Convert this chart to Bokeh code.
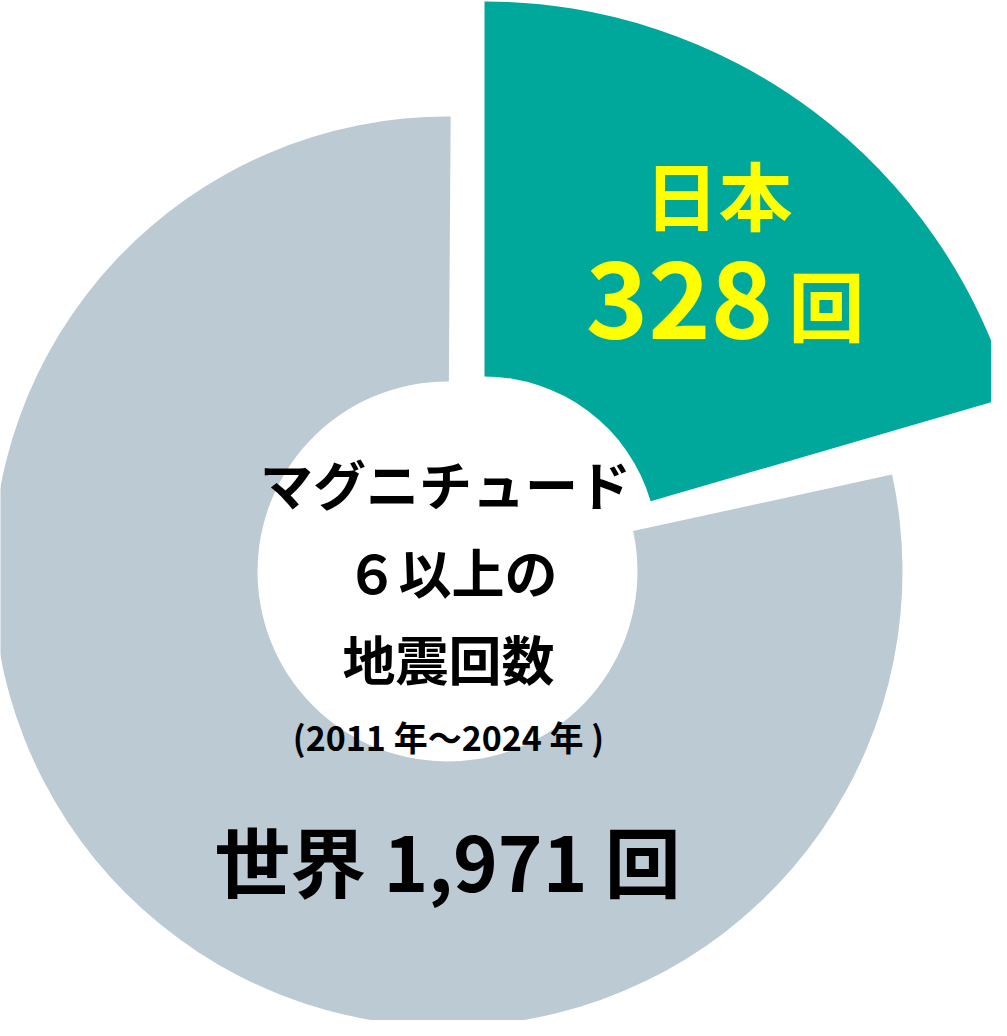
from bokeh.plotting import figure
from bokeh.models import Range1d, ColumnDataSource
from bokeh.core.properties import value
from bokeh.embed import file_html
from bokeh.resources import INLINE

# ---- data ----
labels = ["日本", "世界"]
counts = [328, 1971]
drawn_share_pct = [20.5, 79.5]      # slice shares as drawn in the picture
period = ["2011", "2024"]
center_lines = ["マグニチュード", "６以上の", "地震回数"]
colors = ["#00A89C", "#BCCAD4"]

FONT = value("Noto Sans CJK JP")

p = figure(width=991, height=1020, x_range=Range1d(8, 999), y_range=Range1d(8, 1028),
           output_backend="svg", toolbar_location=None, min_border=0)
p.axis.visible = False
p.grid.visible = False
p.outline_line_color = None
p.background_fill_color = "white"
p.border_fill_color = "white"

boundary = 90 - 3.6 * drawn_share_pct[0]
gap_deg = 3.9

# world (grey) ring
p.annular_wedge(x=455, y=457, inner_radius=190, outer_radius=455,
                start_angle=89.6, end_angle=boundary - gap_deg,
                start_angle_units="deg", end_angle_units="deg",
                direction="anticlock", fill_color=colors[1], line_color=None)
# Japan (teal) slice, pulled out and enlarged
p.annular_wedge(x=492, y=479, inner_radius=173, outer_radius=548,
                start_angle=boundary, end_angle=90,
                start_angle_units="deg", end_angle_units="deg",
                direction="anticlock", fill_color=colors[0], line_color=None)


def label(x, y, texts, size, color):
    src = ColumnDataSource(dict(x=x, y=y, t=texts))
    p.text(x="x", y="y", text="t", source=src, text_font=FONT, text_font_style="bold",
           text_font_size=size, text_color=color, text_align="center", text_baseline="middle")


# center title
label([453, 459, 456], [546, 458, 371], center_lines, "53px", "black")
label([456], [292], [f"({period[0]} 年～{period[1]} 年 )"], "34px", "black")
# world label
label([455], [170], [f"{labels[1]} {counts[1]:,} 回"], "76px", "black")
# Japan label
label([726], [836], [labels[0]], "74px", "#FFFF00")
label([834], [726], ["回"], "76px", "#FFFF00")
label([687], [729], [f"{counts[0]:d}"], "106px", "#FFFF00")

open("out.html", "w").write(file_html(p, INLINE))
